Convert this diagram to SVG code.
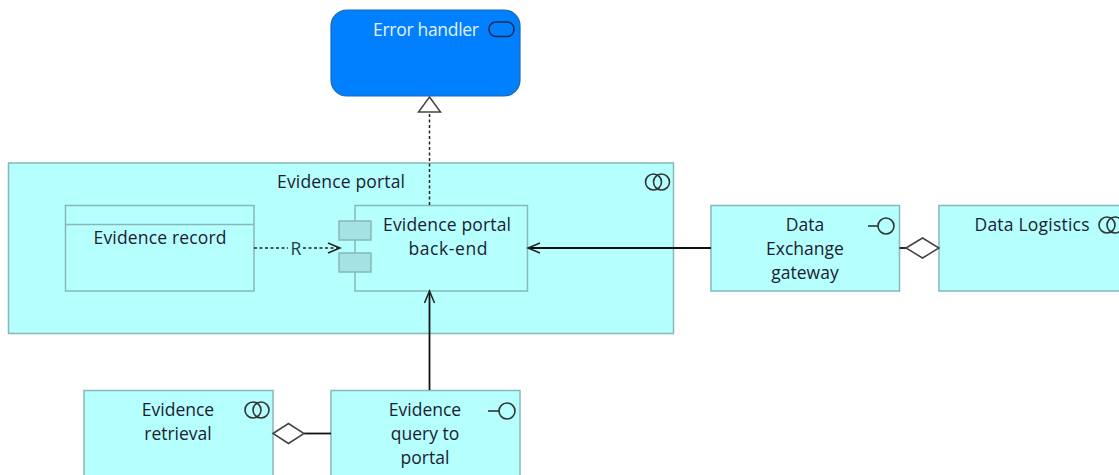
<svg xmlns="http://www.w3.org/2000/svg" width="1119" height="475" viewBox="0 0 1119 475">
<style>
.n{fill:#b5ffff;stroke:#86b8b8;stroke-width:1.5}
.c{fill:#a3e3e3;stroke:#86b8b8;stroke-width:1.5}
text{font-family:"Open Sans","Noto Sans",sans-serif;font-size:17.5px;fill:#1c1c30;text-anchor:middle}
.i{fill:none;stroke:#333;stroke-width:1.6}
.l{fill:none;stroke:#111;stroke-width:1.8}
.d{fill:none;stroke:#222;stroke-width:1.5;stroke-dasharray:3 2.5}
.h{fill:none;stroke:#222;stroke-width:1.5}
.w{fill:#fff;stroke:#444;stroke-width:1.5}
</style>
<rect width="1119" height="475" fill="#fff"/>
<g id="error-handler">
<rect x="331" y="10" width="189" height="86" rx="16" fill="#0080ff" stroke="#1a66b3" stroke-width="1.2"/>
<text x="426" y="36" style="fill:#e4f2ff" textLength="106">Error handler</text>
<rect x="489" y="22" width="25" height="14.500" rx="7" fill="none" stroke="#102a50" stroke-width="1.600"/>
</g>
<g id="evidence-portal">
<rect class="n" x="8.500" y="163" width="665" height="170.500"/>
<text x="341" y="188" textLength="128">Evidence portal</text>
<circle class="i" cx="653.500" cy="182" r="8"/><circle class="i" cx="661.500" cy="182" r="8"/>
</g>
<g id="evidence-record">
<rect class="n" x="65.500" y="205.500" width="188.500" height="85.500"/>
<line x1="65.500" y1="224.500" x2="254" y2="224.500" stroke="#86b8b8" stroke-width="1.500"/>
<text x="160" y="244" textLength="133">Evidence record</text>
</g>
<g id="back-end">
<rect class="n" x="355" y="205.500" width="172.500" height="85.500"/>
<rect class="c" x="339" y="221" width="32" height="19"/>
<rect class="c" x="339" y="253" width="32" height="19"/>
<text x="447" y="231" textLength="128">Evidence portal</text>
<text x="448" y="255" textLength="79">back-end</text>
</g>
<g id="gateway">
<rect class="n" x="711" y="205.500" width="188.500" height="85.500"/>
<text x="805" y="231">Data</text>
<text x="805" y="255">Exchange</text>
<text x="805" y="279">gateway</text>
<line class="i" x1="868" y1="226" x2="878" y2="226"/><circle class="i" cx="886" cy="226" r="8"/>
</g>
<g id="data-logistics">
<rect class="n" x="939" y="205.500" width="190" height="85.500"/>
<text x="1032" y="231" textLength="115">Data Logistics</text>
<circle class="i" cx="1107" cy="225" r="8"/><circle class="i" cx="1115" cy="225" r="8"/>
</g>
<g id="retrieval">
<rect class="n" x="84" y="390.500" width="189" height="95"/>
<text x="178" y="416">Evidence</text>
<text x="178" y="440">retrieval</text>
<circle class="i" cx="253" cy="410" r="8"/><circle class="i" cx="261" cy="410" r="8"/>
</g>
<g id="query">
<rect class="n" x="331" y="390.500" width="189" height="95"/>
<text x="425" y="416">Evidence</text>
<text x="425" y="440">query to</text>
<text x="425" y="464">portal</text>
<line class="i" x1="488" y1="411" x2="499" y2="411"/><circle class="i" cx="507" cy="411" r="8"/>
</g>
<g id="connectors">
<line class="d" x1="429.500" y1="205" x2="429.500" y2="112"/>
<path class="w" d="M429.500 97L440.500 112H418.500Z"/>
<path class="d" d="M254 248H288M303 248H339"/>
<path class="h" d="M328 243L340 248L328 253"/>
<text x="296" y="255" style="fill:#20404a">R</text>
<line class="l" x1="711" y1="248" x2="528" y2="248"/>
<path class="h" d="M540 243L528 248L540 253"/>
<line class="l" x1="429.500" y1="390" x2="429.500" y2="292"/>
<path class="h" d="M424.500 303L429.500 291L434.500 303"/>
<line class="l" x1="899.500" y1="248" x2="906" y2="248"/>
<path class="w" d="M906 248L922.500 238L939 248L922.500 258Z"/>
<line class="l" x1="304" y1="433.500" x2="331" y2="433.500"/>
<path class="w" d="M273 433.500L288.500 423.500L304 433.500L288.500 443.500Z"/>
</g>
</svg>
